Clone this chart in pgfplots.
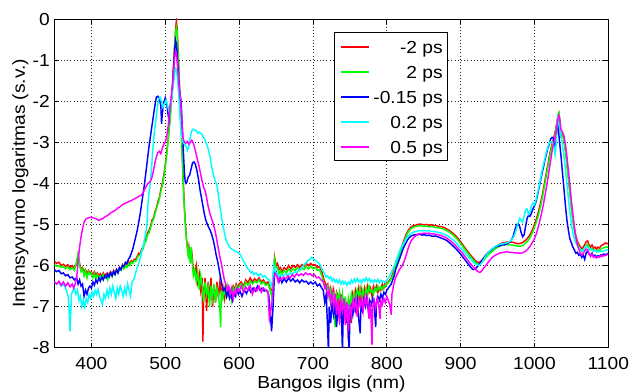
\documentclass[border=0pt]{standalone}
\usepackage{fontspec}
\setmainfont{Liberation Sans}[FakeStretch=1.1]
\usepackage{pgfplots}
\pgfplotsset{compat=1.18}
\definecolor{mred}{RGB}{255,0,0}
\definecolor{mgreen}{RGB}{0,255,0}
\definecolor{mblue}{RGB}{0,0,255}
\definecolor{mcyan}{RGB}{0,255,255}
\definecolor{mmagenta}{RGB}{255,0,255}
\begin{document}
\begin{tikzpicture}
\path[use as bounding box] (-54.5bp,-44.3bp) rectangle (574.5bp,347.7bp);
\begin{axis}[
  scale only axis, width=553.8bp, height=328.7bp,
  xmin=350, xmax=1100, ymin=-8, ymax=0,
  xtick={400,500,...,1100}, ytick={-8,-7,...,0},
  /pgf/number format/assume math mode=true,
  /pgf/number format/1000 sep={},
  font=\fontsize{17.5}{20}\selectfont,
  ticklabel style={font=\fontsize{17.5}{20}\selectfont},
  xticklabel style={inner sep=0pt, yshift=-9bp},
  yticklabel style={inner sep=0pt, xshift=-4.5bp},
  xlabel={Bangos ilgis (nm)}, ylabel={Intensyvumo logaritmas (s.v.)},
  xlabel style={at={(axis description cs:0.5,-0.1256)}, anchor=base, inner sep=0pt},
  ylabel style={at={(axis description cs:-0.0533,0.5)}, anchor=base, rotate=0, inner sep=0pt},
  axis line style={line width=0.9bp},
  tick style={black, line width=0.8bp}, major tick length=5bp,
  grid=major,
  major grid style={black!85, line width=0.6bp, dash pattern=on 1bp off 2.2bp},
  every axis plot/.append style={line width=1.45bp},
  legend cell align=right,
  legend image code/.code={\draw[#1, line width=2bp] (0bp,0bp) -- (28bp,0bp);},
  legend style={at={(axis description cs:0.505,0.9595)}, anchor=north west,
    draw=black, line width=1.1bp, fill=white,
    inner xsep=5bp, inner ysep=3bp, row sep=3.1bp, column sep=3.7bp,
    nodes={inner sep=0pt, text height=18bp, text depth=3.9bp},
    font=\fontsize{17.5}{20}\selectfont},
]
\addplot[mred] coordinates {(350,-5.90) (353,-5.95) (356,-5.92) (359,-6.00) (362,-5.97) (365,-6.02) (368,-5.98) (371,-6.05) (374,-6.00) (377,-6.08) (380,-5.95) (382,-5.75) (384,-5.95) (386,-6.10) (388,-6.05) (390,-6.15) (392,-6.10) (394,-6.20) (396,-6.12) (398,-6.18) (400,-6.15) (402,-6.25) (404,-6.15) (406,-6.22) (408,-6.18) (410,-6.25) (412,-6.20) (414,-6.28) (416,-6.18) (418,-6.25) (420,-6.20) (422,-6.30) (424,-6.20) (426,-6.15) (428,-6.22) (430,-6.12) (432,-6.18) (434,-6.10) (436,-6.15) (438,-6.05) (440,-6.10) (442,-5.98) (444,-6.05) (446,-5.95) (448,-6.00) (450,-5.90) (452,-5.95) (454,-5.88) (456,-5.92) (458,-5.85) (460,-5.85) (462,-5.78) (464,-5.70) (466,-5.72) (468,-5.60) (470,-5.55) (472,-5.40) (474,-5.35) (476,-5.20) (478,-5.15) (480,-5.05) (482,-4.90) (484,-4.85) (486,-4.70) (488,-4.60) (490,-4.45) (492,-4.35) (494,-4.15) (496,-4.00) (498,-3.80) (500,-3.55) (502,-3.25) (504,-2.90) (506,-2.50) (508,-2.05) (510,-1.55) (511,-1.20) (512,-0.85) (513,-0.55) (514,-0.25) (515,-0.05) (516,-0.20) (517,-0.60) (518,-1.00) (519,-1.50) (520,-1.90) (521,-2.40) (522,-2.80) (523,-3.30) (524,-3.80) (525,-4.20) (526,-4.60) (527,-4.90) (528,-5.15) (529,-5.40) (530,-5.55) (531,-5.70) (532,-5.55) (534,-5.85) (536,-5.70) (538,-6.10) (540,-6.20) (542,-6.00) (544,-6.40) (546,-6.20) (548,-6.60) (550,-6.30) (551,-7.85) (552,-6.70) (554,-6.30) (556,-7.10) (558,-6.40) (560,-6.80) (562,-6.30) (564,-7.00) (566,-6.50) (568,-6.90) (570,-6.40) (572,-6.80) (574,-6.40) (576,-6.70) (578,-6.50) (580,-6.80) (582,-6.50) (584,-6.70) (586,-6.55) (588,-6.65) (590,-6.60) (592,-6.50) (594,-6.60) (596,-6.45) (598,-6.55) (600,-6.45) (603,-6.40) (606,-6.50) (609,-6.35) (612,-6.42) (615,-6.30) (618,-6.40) (621,-6.32) (624,-6.38) (627,-6.30) (630,-6.40) (633,-6.35) (636,-6.45) (639,-6.40) (642,-6.55) (644,-6.70) (646,-6.40) (648,-5.80) (650,-6.00) (652,-5.95) (654,-6.10) (656,-6.05) (658,-6.15) (661,-6.05) (664,-6.10) (667,-6.00) (670,-6.08) (673,-6.00) (676,-6.05) (679,-5.98) (682,-6.05) (685,-5.98) (688,-6.02) (691,-5.95) (694,-6.00) (697,-5.95) (700,-6.00) (703,-5.98) (706,-6.05) (709,-6.02) (712,-6.15) (715,-6.35) (718,-6.50) (720,-6.45) (722,-6.70) (724,-6.55) (726,-6.80) (728,-6.60) (730,-6.90) (732,-6.65) (734,-6.75) (736,-7.00) (738,-6.70) (740,-7.20) (742,-6.80) (744,-7.40) (746,-6.90) (748,-7.85) (750,-6.90) (752,-7.40) (754,-6.70) (756,-6.85) (758,-6.60) (760,-6.75) (762,-6.55) (764,-6.90) (766,-6.60) (768,-6.80) (770,-6.55) (772,-6.70) (774,-6.50) (776,-6.65) (778,-6.55) (780,-6.75) (782,-6.50) (784,-6.60) (786,-6.50) (788,-6.65) (790,-6.55) (792,-6.60) (794,-6.45) (796,-6.55) (798,-6.40) (800,-6.45) (802,-6.40) (804,-6.35) (806,-6.30) (808,-6.20) (810,-6.10) (812,-5.95) (814,-5.85) (816,-5.75) (818,-5.65) (820,-5.55) (822,-5.45) (824,-5.35) (826,-5.25) (828,-5.18) (830,-5.12) (833,-5.06) (836,-5.03) (839,-5.02) (842,-5.00) (845,-4.99) (848,-5.00) (851,-5.01) (854,-5.00) (857,-5.02) (860,-5.01) (863,-5.02) (866,-5.03) (869,-5.04) (872,-5.05) (875,-5.06) (878,-5.08) (881,-5.11) (884,-5.14) (887,-5.18) (890,-5.22) (893,-5.27) (896,-5.33) (899,-5.40) (902,-5.47) (905,-5.55) (908,-5.62) (911,-5.69) (914,-5.76) (917,-5.82) (920,-5.88) (923,-5.92) (925,-5.93) (927,-5.90) (930,-5.85) (933,-5.78) (936,-5.72) (939,-5.66) (942,-5.62) (945,-5.57) (948,-5.53) (951,-5.50) (954,-5.47) (957,-5.45) (960,-5.44) (963,-5.43) (966,-5.44) (969,-5.43) (972,-5.44) (975,-5.46) (978,-5.47) (981,-5.46) (984,-5.44) (987,-5.40) (990,-5.35) (993,-5.28) (996,-5.18) (999,-5.05) (1002,-4.90) (1005,-4.72) (1008,-4.50) (1011,-4.25) (1014,-3.95) (1017,-3.65) (1020,-3.35) (1023,-3.10) (1026,-2.90) (1028,-2.75) (1030,-2.55) (1031,-2.45) (1032,-2.35) (1033,-2.30) (1034,-2.45) (1035,-2.70) (1036,-2.85) (1038,-2.80) (1040,-2.95) (1042,-3.20) (1044,-3.50) (1046,-3.85) (1048,-4.20) (1050,-4.55) (1052,-4.85) (1054,-5.10) (1056,-5.28) (1058,-5.40) (1060,-5.48) (1062,-5.55) (1064,-5.60) (1066,-5.55) (1068,-5.50) (1070,-5.42) (1072,-5.40) (1074,-5.50) (1076,-5.55) (1078,-5.50) (1080,-5.58) (1082,-5.55) (1084,-5.60) (1086,-5.55) (1088,-5.58) (1090,-5.52) (1092,-5.50) (1094,-5.48) (1096,-5.45) (1098,-5.47) (1100,-5.45)};
\addlegendentry{-2 ps\hspace{4bp}}
\addplot[mgreen] coordinates {(350,-5.98) (353,-6.02) (356,-6.00) (359,-6.05) (362,-6.02) (365,-6.08) (368,-6.03) (371,-6.10) (374,-6.05) (377,-6.12) (380,-5.90) (382,-5.70) (384,-6.00) (386,-6.15) (388,-6.08) (390,-6.25) (392,-6.12) (394,-6.30) (396,-6.15) (398,-6.22) (400,-6.18) (402,-6.30) (404,-6.20) (406,-6.35) (408,-6.22) (410,-6.30) (412,-6.25) (414,-6.32) (416,-6.22) (418,-6.30) (420,-6.25) (422,-6.35) (424,-6.22) (426,-6.20) (428,-6.28) (430,-6.15) (432,-6.22) (434,-6.12) (436,-6.18) (438,-6.10) (440,-6.12) (442,-6.02) (444,-6.08) (446,-6.00) (448,-6.05) (450,-5.95) (452,-6.00) (454,-5.92) (456,-5.95) (458,-5.88) (460,-5.90) (462,-5.82) (464,-5.75) (466,-5.75) (468,-5.65) (470,-5.60) (472,-5.45) (474,-5.40) (476,-5.25) (478,-5.20) (480,-5.10) (482,-4.95) (484,-4.88) (486,-4.75) (488,-4.62) (490,-4.50) (492,-4.38) (494,-4.20) (496,-4.05) (498,-3.85) (500,-3.60) (502,-3.30) (504,-2.95) (506,-2.55) (508,-2.10) (510,-1.60) (511,-1.25) (512,-0.90) (513,-0.60) (514,-0.35) (515,-0.20) (516,-0.30) (517,-0.70) (518,-1.10) (519,-1.55) (520,-2.00) (521,-2.45) (522,-2.85) (523,-3.35) (524,-3.85) (525,-4.25) (526,-4.65) (527,-4.95) (528,-5.20) (529,-5.45) (530,-5.60) (531,-5.75) (532,-5.60) (534,-5.95) (535,-5.55) (536,-5.80) (538,-6.25) (540,-6.10) (542,-6.40) (544,-6.15) (546,-6.60) (548,-6.25) (550,-6.50) (552,-6.90) (554,-6.40) (556,-6.70) (558,-6.50) (560,-7.00) (562,-6.50) (564,-6.80) (566,-6.45) (568,-6.90) (570,-6.55) (572,-6.70) (574,-7.10) (575,-7.50) (576,-6.60) (578,-6.80) (580,-6.55) (582,-6.75) (584,-6.50) (586,-6.70) (588,-6.60) (590,-6.85) (592,-6.55) (594,-6.65) (596,-6.50) (598,-6.60) (600,-6.50) (603,-6.45) (606,-6.55) (609,-6.40) (612,-6.48) (615,-6.38) (618,-6.45) (621,-6.38) (624,-6.42) (627,-6.35) (630,-6.45) (633,-6.40) (636,-6.48) (639,-6.45) (642,-6.60) (644,-6.75) (646,-6.45) (648,-5.85) (650,-6.05) (652,-6.05) (654,-6.20) (656,-6.12) (658,-6.22) (661,-6.12) (664,-6.18) (667,-6.08) (670,-6.15) (673,-6.08) (676,-6.12) (679,-6.05) (682,-6.12) (685,-6.05) (688,-6.10) (691,-6.02) (694,-6.08) (697,-6.02) (700,-6.08) (703,-6.05) (706,-6.12) (709,-6.10) (712,-6.25) (715,-6.45) (718,-6.60) (720,-6.50) (722,-6.80) (724,-6.60) (726,-6.90) (728,-6.65) (730,-7.50) (732,-6.70) (734,-6.85) (736,-6.65) (738,-7.00) (740,-6.70) (742,-7.10) (744,-6.75) (746,-7.20) (748,-6.80) (750,-7.00) (752,-6.70) (754,-6.90) (756,-6.65) (758,-6.80) (760,-6.60) (762,-6.75) (764,-6.55) (766,-6.85) (768,-6.60) (770,-6.75) (772,-6.55) (774,-6.70) (776,-6.50) (778,-6.65) (780,-6.60) (782,-6.70) (784,-6.55) (786,-6.62) (788,-6.50) (790,-6.60) (792,-6.52) (794,-6.58) (796,-6.48) (798,-6.52) (800,-6.45) (802,-6.42) (804,-6.38) (806,-6.32) (808,-6.25) (810,-6.15) (812,-6.00) (814,-5.90) (816,-5.80) (818,-5.70) (820,-5.60) (822,-5.50) (824,-5.40) (826,-5.30) (828,-5.22) (830,-5.16) (833,-5.10) (836,-5.07) (839,-5.05) (842,-5.04) (845,-5.03) (848,-5.04) (851,-5.05) (854,-5.04) (857,-5.06) (860,-5.05) (863,-5.06) (866,-5.07) (869,-5.08) (872,-5.09) (875,-5.10) (878,-5.12) (881,-5.15) (884,-5.18) (887,-5.22) (890,-5.26) (893,-5.31) (896,-5.37) (899,-5.44) (902,-5.51) (905,-5.59) (908,-5.66) (911,-5.73) (914,-5.80) (917,-5.86) (920,-5.92) (923,-5.96) (925,-5.97) (927,-5.95) (930,-5.90) (933,-5.83) (936,-5.77) (939,-5.71) (942,-5.67) (945,-5.62) (948,-5.58) (951,-5.55) (954,-5.52) (957,-5.50) (960,-5.49) (963,-5.49) (966,-5.50) (969,-5.50) (972,-5.51) (975,-5.52) (978,-5.53) (981,-5.53) (984,-5.51) (987,-5.47) (990,-5.42) (993,-5.35) (996,-5.25) (999,-5.12) (1002,-4.97) (1005,-4.80) (1008,-4.58) (1011,-4.32) (1014,-4.02) (1017,-3.72) (1020,-3.42) (1023,-3.15) (1026,-2.95) (1028,-2.80) (1030,-2.58) (1031,-2.45) (1032,-2.33) (1033,-2.28) (1034,-2.42) (1035,-2.65) (1036,-2.80) (1038,-2.78) (1040,-2.95) (1042,-3.22) (1044,-3.55) (1046,-3.90) (1048,-4.25) (1050,-4.60) (1052,-4.90) (1054,-5.15) (1056,-5.33) (1058,-5.45) (1060,-5.53) (1062,-5.60) (1064,-5.66) (1066,-5.62) (1068,-5.58) (1070,-5.50) (1072,-5.48) (1074,-5.58) (1076,-5.62) (1078,-5.58) (1080,-5.65) (1082,-5.62) (1084,-5.66) (1086,-5.62) (1088,-5.64) (1090,-5.60) (1092,-5.58) (1094,-5.57) (1096,-5.55) (1098,-5.56) (1100,-5.54)};
\addlegendentry{2 ps\hspace{4bp}}
\addplot[mblue] coordinates {(350,-6.10) (353,-6.15) (356,-6.12) (359,-6.20) (362,-6.18) (365,-6.25) (368,-6.22) (371,-6.30) (374,-6.28) (377,-6.35) (380,-6.30) (382,-6.45) (384,-6.35) (386,-6.50) (388,-6.45) (390,-6.75) (392,-6.60) (394,-6.70) (396,-6.55) (398,-6.50) (400,-6.55) (402,-6.40) (404,-6.48) (406,-6.35) (408,-6.42) (410,-6.30) (412,-6.38) (414,-6.28) (416,-6.35) (418,-6.25) (420,-6.30) (422,-6.20) (424,-6.28) (426,-6.18) (428,-6.25) (430,-6.15) (432,-6.22) (434,-6.10) (436,-6.18) (438,-6.05) (440,-6.10) (442,-6.00) (444,-6.02) (446,-5.92) (448,-5.95) (450,-5.85) (452,-5.80) (454,-5.70) (456,-5.60) (458,-5.45) (460,-5.30) (462,-5.15) (464,-4.95) (466,-4.75) (468,-4.50) (470,-4.25) (472,-4.00) (474,-3.70) (476,-3.40) (478,-3.10) (480,-2.85) (482,-2.60) (484,-2.35) (486,-2.10) (488,-1.90) (490,-1.88) (492,-1.95) (494,-2.10) (495,-2.55) (496,-2.30) (498,-2.05) (500,-1.92) (502,-2.05) (504,-2.35) (505,-2.45) (506,-2.20) (508,-2.00) (510,-1.60) (511,-1.30) (512,-0.95) (513,-0.70) (514,-0.52) (515,-0.60) (516,-0.80) (517,-1.10) (518,-1.40) (519,-1.70) (520,-1.85) (521,-1.95) (522,-2.20) (523,-2.60) (524,-3.00) (525,-3.40) (526,-3.75) (527,-3.95) (528,-4.00) (529,-3.98) (531,-3.85) (533,-3.80) (535,-3.65) (537,-3.50) (539,-3.48) (541,-3.55) (543,-3.70) (545,-3.90) (547,-4.15) (549,-4.35) (551,-4.55) (553,-4.75) (555,-4.90) (557,-5.00) (559,-5.08) (561,-5.15) (563,-5.25) (565,-5.38) (567,-5.55) (569,-5.75) (571,-5.90) (573,-6.10) (575,-6.30) (577,-6.50) (579,-6.60) (581,-6.55) (583,-6.75) (585,-6.60) (587,-6.80) (589,-6.70) (591,-6.85) (593,-6.70) (595,-6.75) (597,-6.60) (599,-6.70) (601,-6.62) (604,-6.75) (607,-6.60) (610,-6.68) (613,-6.55) (616,-6.65) (619,-6.55) (622,-6.62) (625,-6.50) (628,-6.60) (631,-6.55) (634,-6.62) (637,-6.60) (640,-6.70) (642,-7.10) (644,-7.60) (646,-7.00) (648,-6.20) (650,-6.15) (652,-6.25) (654,-6.40) (656,-6.30) (658,-6.42) (661,-6.32) (664,-6.40) (667,-6.30) (670,-6.38) (673,-6.32) (676,-6.40) (679,-6.35) (682,-6.42) (685,-6.35) (688,-6.40) (691,-6.38) (694,-6.45) (697,-6.40) (700,-6.45) (703,-6.40) (706,-6.50) (709,-6.45) (712,-6.55) (714,-6.60) (716,-6.90) (718,-6.70) (720,-7.60) (721,-8.10) (722,-7.00) (724,-7.40) (726,-6.90) (728,-7.20) (730,-6.95) (732,-7.50) (734,-7.00) (736,-7.30) (738,-6.90) (740,-8.10) (741,-7.20) (743,-7.00) (745,-7.40) (747,-6.95) (749,-8.10) (750,-7.30) (752,-7.00) (754,-7.20) (756,-6.90) (758,-7.10) (760,-6.85) (762,-7.30) (764,-7.65) (765,-6.95) (767,-7.10) (769,-6.85) (771,-7.00) (773,-6.80) (775,-7.10) (777,-6.85) (779,-6.95) (781,-6.80) (783,-7.00) (785,-7.50) (786,-6.90) (788,-6.75) (790,-6.85) (792,-6.70) (794,-6.80) (796,-6.65) (798,-6.70) (800,-6.60) (802,-6.55) (804,-6.50) (806,-6.45) (808,-6.35) (810,-6.25) (812,-6.10) (814,-6.00) (816,-5.90) (818,-5.80) (820,-5.70) (822,-5.60) (824,-5.52) (826,-5.45) (828,-5.38) (830,-5.33) (833,-5.28) (836,-5.26) (839,-5.25) (842,-5.25) (845,-5.24) (848,-5.26) (851,-5.25) (854,-5.27) (857,-5.26) (860,-5.28) (863,-5.29) (866,-5.28) (869,-5.30) (872,-5.32) (875,-5.34) (878,-5.36) (881,-5.39) (884,-5.43) (887,-5.48) (890,-5.53) (893,-5.58) (896,-5.64) (899,-5.70) (902,-5.77) (905,-5.84) (908,-5.91) (911,-5.98) (914,-6.05) (917,-6.10) (920,-6.08) (923,-6.02) (926,-5.95) (929,-5.88) (932,-5.80) (935,-5.73) (938,-5.67) (941,-5.62) (944,-5.58) (947,-5.55) (950,-5.53) (953,-5.52) (956,-5.50) (959,-5.50) (962,-5.48) (965,-5.45) (968,-5.40) (971,-5.30) (974,-5.10) (976,-5.00) (978,-4.98) (980,-5.05) (982,-5.20) (984,-5.30) (986,-5.25) (988,-5.05) (990,-4.85) (992,-4.78) (994,-4.80) (996,-4.72) (998,-4.62) (1000,-4.55) (1002,-4.45) (1004,-4.30) (1006,-4.12) (1008,-3.95) (1010,-3.78) (1012,-3.62) (1014,-3.45) (1016,-3.30) (1018,-3.15) (1020,-3.05) (1022,-2.92) (1024,-2.88) (1026,-2.90) (1027,-3.05) (1028,-3.15) (1029,-3.00) (1030,-2.75) (1031,-2.55) (1032,-2.60) (1033,-2.80) (1034,-3.00) (1036,-3.35) (1038,-3.75) (1040,-4.15) (1042,-4.55) (1044,-4.90) (1046,-5.15) (1048,-5.35) (1050,-5.45) (1052,-5.55) (1054,-5.62) (1056,-5.70) (1058,-5.68) (1060,-5.75) (1062,-5.72) (1064,-5.80) (1066,-5.75) (1068,-5.85) (1070,-5.70) (1072,-5.65) (1074,-5.72) (1076,-5.75) (1078,-5.70) (1080,-5.78) (1082,-5.75) (1084,-5.80) (1086,-5.76) (1088,-5.78) (1090,-5.74) (1092,-5.75) (1094,-5.72) (1096,-5.74) (1098,-5.72) (1100,-5.70)};
\addlegendentry{-0.15 ps}
\addplot[mcyan] coordinates {(350,-6.40) (353,-6.45) (356,-6.42) (359,-6.50) (362,-6.45) (365,-6.55) (367,-6.65) (369,-6.80) (371,-7.60) (372,-7.20) (373,-6.70) (375,-6.60) (377,-6.55) (379,-6.70) (381,-6.60) (383,-6.85) (385,-6.75) (387,-7.00) (389,-6.85) (391,-7.02) (393,-6.80) (395,-6.90) (397,-6.70) (399,-6.80) (401,-6.65) (403,-6.75) (405,-6.60) (407,-6.70) (409,-6.58) (411,-6.75) (413,-6.85) (415,-6.95) (417,-6.70) (419,-6.80) (421,-6.60) (423,-6.75) (425,-6.55) (427,-6.70) (429,-6.50) (431,-6.65) (433,-6.80) (435,-6.55) (437,-6.70) (439,-6.50) (441,-6.60) (443,-6.75) (445,-6.55) (447,-6.70) (449,-6.45) (451,-6.60) (453,-6.75) (455,-6.40) (457,-6.35) (459,-6.25) (461,-6.10) (463,-6.00) (465,-5.90) (467,-5.75) (469,-5.60) (471,-5.45) (473,-5.25) (475,-5.05) (477,-4.40) (479,-4.10) (481,-3.75) (483,-3.20) (485,-2.80) (487,-2.50) (489,-2.20) (491,-1.95) (493,-1.90) (495,-2.00) (497,-2.15) (499,-2.05) (501,-1.98) (503,-2.10) (505,-2.25) (507,-2.15) (509,-1.90) (511,-1.60) (513,-1.30) (514,-1.20) (515,-1.22) (516,-1.35) (517,-1.55) (518,-1.80) (519,-2.10) (520,-2.40) (521,-2.65) (522,-2.85) (524,-3.00) (526,-3.05) (528,-3.10) (530,-3.20) (532,-3.10) (534,-2.85) (536,-2.72) (538,-2.68) (540,-2.70) (542,-2.72) (544,-2.78) (546,-2.75) (548,-2.78) (550,-2.82) (552,-2.88) (554,-2.95) (556,-3.05) (558,-3.15) (560,-3.30) (562,-3.50) (564,-3.70) (566,-3.85) (568,-3.95) (570,-4.05) (572,-4.30) (574,-4.55) (576,-4.80) (578,-5.00) (580,-5.20) (582,-5.35) (584,-5.45) (586,-5.52) (588,-5.57) (590,-5.60) (592,-5.62) (594,-5.65) (596,-5.66) (598,-5.68) (600,-5.70) (602,-5.75) (604,-5.82) (606,-5.90) (608,-5.95) (610,-6.02) (612,-6.08) (614,-6.12) (616,-6.18) (618,-6.15) (620,-6.22) (623,-6.18) (626,-6.25) (629,-6.20) (632,-6.28) (635,-6.25) (638,-6.32) (641,-6.35) (643,-6.50) (645,-6.40) (647,-6.00) (649,-6.15) (651,-6.20) (654,-6.28) (657,-6.22) (660,-6.25) (663,-6.20) (666,-6.25) (669,-6.18) (672,-6.22) (675,-6.15) (678,-6.18) (681,-6.10) (684,-6.08) (687,-6.00) (690,-5.95) (693,-5.88) (696,-5.85) (698,-5.80) (700,-5.83) (702,-5.85) (704,-5.88) (706,-5.92) (708,-5.95) (710,-6.00) (712,-6.08) (714,-6.15) (716,-6.20) (718,-6.28) (720,-6.25) (722,-6.32) (724,-6.28) (726,-6.38) (728,-6.32) (730,-6.40) (732,-6.35) (734,-6.42) (736,-6.35) (738,-6.45) (740,-6.38) (742,-6.45) (744,-6.40) (746,-6.48) (748,-6.40) (750,-6.45) (752,-6.35) (754,-6.42) (756,-6.33) (758,-6.40) (760,-6.32) (762,-6.40) (764,-6.35) (766,-6.42) (768,-6.33) (770,-6.38) (772,-6.30) (774,-6.38) (776,-6.32) (778,-6.40) (780,-6.35) (782,-6.42) (784,-6.35) (786,-6.40) (788,-6.34) (790,-6.42) (792,-6.36) (794,-6.40) (796,-6.38) (798,-6.42) (800,-6.36) (802,-6.30) (804,-6.25) (806,-6.18) (808,-6.10) (810,-6.02) (812,-5.92) (814,-5.82) (816,-5.72) (818,-5.62) (820,-5.55) (822,-5.48) (824,-5.42) (826,-5.36) (828,-5.30) (830,-5.26) (833,-5.22) (836,-5.19) (839,-5.17) (842,-5.16) (845,-5.15) (848,-5.16) (851,-5.15) (854,-5.16) (857,-5.15) (860,-5.17) (863,-5.17) (866,-5.18) (869,-5.19) (872,-5.20) (875,-5.22) (878,-5.24) (881,-5.26) (884,-5.30) (887,-5.34) (890,-5.38) (893,-5.43) (896,-5.49) (899,-5.55) (902,-5.61) (905,-5.68) (908,-5.74) (911,-5.80) (914,-5.86) (917,-5.92) (920,-5.96) (923,-5.99) (925,-6.00) (927,-5.97) (930,-5.90) (933,-5.80) (936,-5.72) (939,-5.65) (942,-5.60) (945,-5.56) (948,-5.53) (951,-5.50) (954,-5.48) (957,-5.47) (960,-5.46) (963,-5.45) (966,-5.42) (969,-5.38) (972,-5.30) (975,-5.15) (978,-4.95) (980,-4.85) (982,-4.90) (984,-4.95) (986,-4.80) (988,-4.65) (990,-4.62) (992,-4.75) (994,-4.70) (996,-4.55) (998,-4.48) (1000,-4.52) (1002,-4.40) (1004,-4.25) (1006,-4.08) (1008,-3.90) (1010,-3.72) (1012,-3.55) (1014,-3.40) (1016,-3.25) (1018,-3.12) (1020,-3.02) (1022,-2.98) (1024,-3.00) (1026,-3.05) (1028,-3.30) (1029,-3.15) (1030,-2.70) (1031,-2.45) (1032,-2.40) (1033,-2.55) (1035,-2.75) (1037,-2.95) (1039,-3.20) (1041,-3.50) (1043,-3.85) (1045,-4.20) (1047,-4.55) (1049,-4.85) (1051,-5.10) (1053,-5.28) (1055,-5.40) (1057,-5.48) (1059,-5.55) (1061,-5.58) (1063,-5.62) (1065,-5.65) (1067,-5.62) (1069,-5.55) (1071,-5.52) (1073,-5.58) (1075,-5.62) (1077,-5.60) (1080,-5.65) (1083,-5.63) (1086,-5.67) (1089,-5.65) (1092,-5.66) (1095,-5.64) (1098,-5.62) (1100,-5.62)};
\addlegendentry{0.2 ps}
\addplot[mmagenta] coordinates {(350,-6.40) (353,-6.45) (356,-6.38) (359,-6.48) (362,-6.40) (365,-6.50) (368,-6.42) (371,-6.52) (374,-6.45) (376,-6.55) (378,-6.45) (380,-6.30) (382,-5.90) (384,-5.55) (386,-5.30) (388,-5.10) (390,-4.95) (392,-4.88) (394,-4.85) (396,-4.84) (398,-4.83) (400,-4.82) (402,-4.84) (404,-4.85) (406,-4.86) (408,-4.88) (410,-4.90) (412,-4.88) (414,-4.87) (416,-4.85) (418,-4.82) (420,-4.80) (422,-4.78) (424,-4.75) (426,-4.72) (428,-4.70) (430,-4.68) (432,-4.66) (434,-4.63) (436,-4.60) (438,-4.58) (440,-4.55) (442,-4.52) (444,-4.50) (446,-4.48) (448,-4.47) (450,-4.45) (452,-4.43) (454,-4.42) (456,-4.40) (458,-4.38) (460,-4.36) (462,-4.34) (464,-4.32) (466,-4.30) (468,-4.28) (470,-4.22) (472,-4.15) (474,-4.08) (476,-4.02) (478,-3.98) (480,-3.95) (482,-3.85) (484,-3.70) (486,-3.50) (488,-3.35) (490,-3.25) (492,-3.22) (494,-3.28) (496,-3.15) (498,-3.05) (500,-3.00) (502,-2.85) (504,-2.60) (506,-2.20) (508,-1.90) (510,-1.60) (511,-1.35) (512,-1.10) (513,-0.90) (514,-0.78) (515,-0.82) (516,-1.00) (517,-1.25) (518,-1.50) (519,-1.70) (520,-1.85) (521,-2.05) (522,-2.35) (523,-2.65) (524,-2.90) (526,-3.00) (528,-3.02) (530,-2.98) (532,-3.05) (534,-3.00) (536,-2.95) (538,-3.02) (540,-3.15) (542,-3.30) (544,-3.45) (546,-3.60) (548,-3.78) (550,-3.95) (552,-4.10) (554,-4.18) (556,-4.35) (558,-4.55) (560,-4.70) (562,-4.82) (564,-4.92) (566,-5.05) (568,-5.20) (570,-5.40) (572,-5.60) (574,-5.80) (576,-5.95) (578,-6.15) (580,-6.35) (582,-6.45) (584,-6.60) (586,-6.50) (588,-6.70) (590,-6.55) (592,-6.80) (594,-6.60) (596,-6.70) (598,-6.55) (600,-6.62) (603,-6.50) (606,-6.65) (609,-6.52) (612,-6.60) (615,-6.48) (618,-6.70) (621,-6.55) (624,-6.62) (627,-6.50) (630,-6.65) (633,-6.55) (636,-6.60) (639,-6.62) (641,-7.30) (643,-7.10) (645,-6.80) (647,-6.30) (649,-6.20) (651,-6.25) (653,-6.40) (655,-6.30) (657,-6.35) (660,-6.28) (663,-6.32) (666,-6.25) (669,-6.30) (672,-6.22) (675,-6.28) (678,-6.20) (681,-6.25) (684,-6.20) (687,-6.24) (690,-6.18) (693,-6.22) (696,-6.20) (699,-6.25) (702,-6.22) (705,-6.30) (708,-6.28) (711,-6.35) (714,-6.40) (716,-6.55) (718,-6.50) (720,-6.75) (722,-6.60) (724,-6.90) (726,-6.65) (728,-7.00) (730,-6.70) (732,-7.20) (734,-6.80) (736,-7.40) (738,-6.85) (740,-7.10) (742,-6.80) (744,-7.45) (746,-6.90) (748,-7.60) (750,-6.95) (752,-7.20) (754,-6.85) (756,-7.05) (758,-6.80) (760,-7.25) (762,-6.85) (764,-7.00) (766,-6.80) (768,-7.10) (770,-6.75) (772,-6.95) (774,-6.80) (776,-7.30) (778,-6.90) (780,-7.93) (781,-7.00) (783,-6.85) (785,-7.05) (787,-6.80) (789,-6.95) (791,-7.30) (792,-6.85) (794,-6.95) (796,-6.80) (798,-6.90) (800,-6.75) (802,-6.85) (804,-6.95) (806,-7.20) (807,-6.70) (809,-6.50) (811,-6.35) (813,-6.25) (815,-6.18) (817,-6.10) (819,-6.05) (821,-6.00) (823,-5.92) (825,-5.82) (827,-5.70) (829,-5.58) (831,-5.48) (833,-5.40) (836,-5.33) (839,-5.28) (842,-5.24) (845,-5.22) (848,-5.22) (851,-5.21) (854,-5.22) (857,-5.21) (860,-5.23) (863,-5.23) (866,-5.24) (869,-5.25) (872,-5.26) (875,-5.28) (878,-5.30) (881,-5.33) (884,-5.37) (887,-5.41) (890,-5.46) (893,-5.51) (896,-5.57) (899,-5.63) (902,-5.69) (905,-5.76) (908,-5.83) (911,-5.90) (914,-5.97) (917,-6.03) (920,-6.09) (923,-6.14) (926,-6.17) (928,-6.14) (931,-6.07) (934,-6.00) (937,-5.93) (940,-5.86) (943,-5.80) (946,-5.76) (949,-5.73) (952,-5.70) (955,-5.69) (958,-5.68) (961,-5.67) (964,-5.67) (967,-5.68) (970,-5.68) (973,-5.69) (976,-5.69) (979,-5.70) (982,-5.70) (985,-5.68) (988,-5.65) (991,-5.60) (994,-5.53) (997,-5.45) (1000,-5.35) (1003,-5.20) (1006,-5.00) (1009,-4.78) (1012,-4.52) (1015,-4.22) (1018,-3.90) (1021,-3.55) (1024,-3.20) (1027,-2.95) (1029,-2.80) (1030,-2.65) (1031,-2.52) (1032,-2.42) (1033,-2.35) (1034,-2.40) (1035,-2.55) (1036,-2.70) (1038,-2.75) (1040,-2.85) (1042,-3.05) (1044,-3.35) (1046,-3.70) (1048,-4.05) (1050,-4.42) (1052,-4.75) (1054,-5.05) (1056,-5.30) (1058,-5.48) (1060,-5.60) (1062,-5.70) (1064,-5.75) (1066,-5.70) (1068,-5.65) (1070,-5.60) (1072,-5.62) (1074,-5.72) (1076,-5.78) (1078,-5.72) (1080,-5.80) (1082,-5.78) (1084,-5.82) (1086,-5.78) (1088,-5.80) (1090,-5.76) (1092,-5.78) (1094,-5.75) (1096,-5.76) (1098,-5.74) (1100,-5.72)};
\addlegendentry{0.5 ps}
\end{axis}
\end{tikzpicture}
\end{document}
